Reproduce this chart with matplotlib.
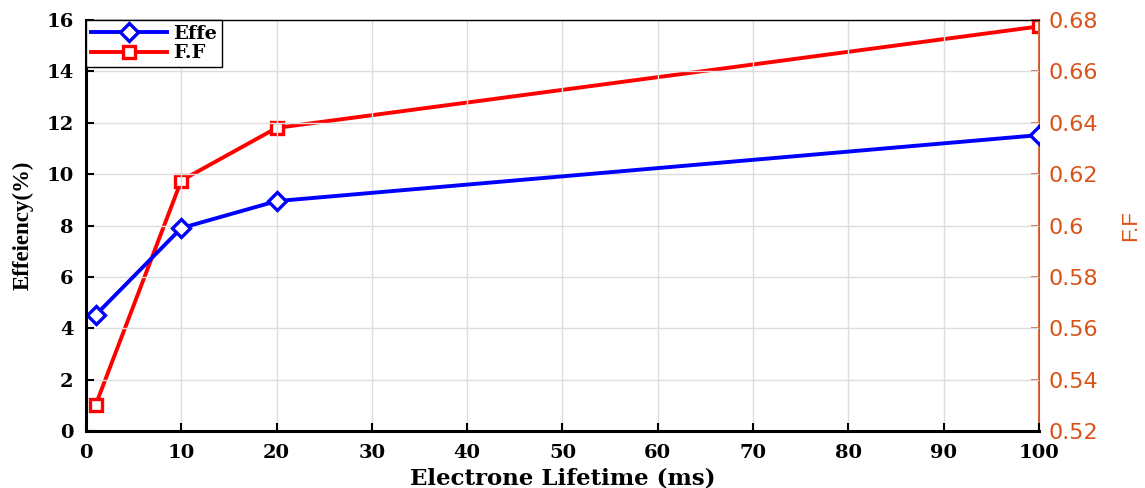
import matplotlib
matplotlib.use("Agg")
import matplotlib.pyplot as plt

lifetime = [1, 10, 20, 100]
effe = [4.51, 7.9, 8.95, 11.52]
ff = [0.530, 0.6175, 0.638, 0.6775]

x_ticks = [0, 10, 20, 30, 40, 50, 60, 70, 80, 90, 100]
left_ticks = [0, 2, 4, 6, 8, 10, 12, 14, 16]
right_ticks = [0.52, 0.54, 0.56, 0.58, 0.6, 0.62, 0.64, 0.66, 0.68]
right_ticklabels = ["0.52", "0.54", "0.56", "0.58", "0.6", "0.62", "0.64", "0.66", "0.68"]

orange = "#D95319"
wserif = "DejaVu Serif"
serif = "Liberation Serif"
sans = "DejaVu Sans"

fig = plt.figure(figsize=(11.45, 4.88), dpi=100)
ax = fig.add_axes([0.0751, 0.1168, 0.8323, 0.8422])
ax2 = ax.twinx()

l1, = ax.plot(lifetime, effe, color="#0000FF", lw=2.8, marker="D", markersize=9,
              markerfacecolor="white", markeredgecolor="#0000FF", markeredgewidth=2.4, label="Effe")
l2, = ax2.plot(lifetime, ff, color="#FF0000", lw=2.8, marker="s", markersize=8.5,
               markerfacecolor="white", markeredgecolor="#FF0000", markeredgewidth=2.4, label="F.F")

ax.set_xlim(0, 100)
ax.set_ylim(0, 16)
ax2.set_ylim(0.52, 0.68)
ax.set_xticks(x_ticks)
ax.set_yticks(left_ticks)
ax2.set_yticks(right_ticks)
ax2.set_yticklabels(right_ticklabels)

ax.grid(True, color="#DDDDDD", lw=1.0)
ax.set_axisbelow(True)

for lab in ax.get_xticklabels() + ax.get_yticklabels():
    lab.set_fontfamily(wserif)
    lab.set_fontweight("bold")
    lab.set_fontsize(14)
for lab in ax2.get_yticklabels():
    lab.set_fontfamily(sans)
    lab.set_fontsize(16)
    lab.set_color(orange)

ax.tick_params(axis="y", direction="in", length=6, width=1.5, pad=9)
ax.tick_params(axis="x", direction="in", length=6, width=1.5, pad=9)
ax2.tick_params(axis="y", direction="in", length=6, width=1.2, colors=orange, pad=7)

ax.spines["left"].set_linewidth(2.2)
ax.spines["bottom"].set_linewidth(2.2)
ax.spines["top"].set_linewidth(1.0)
for s in ["left", "bottom", "top"]:
    ax2.spines[s].set_visible(False)
ax2.spines["right"].set_color(orange)
ax2.spines["right"].set_linewidth(1.5)
ax.spines["right"].set_visible(False)

ax.set_xlabel("Electrone Lifetime (ms)", fontfamily=wserif, fontweight="bold", fontsize=16.5, labelpad=4)
ax.set_ylabel("Effeiency(%)", fontfamily=serif, fontweight="bold", fontsize=16.5, labelpad=9)
ax2.set_ylabel("F.F", fontfamily="Liberation Sans", fontsize=16, color=orange, labelpad=16)

leg = ax.legend(handles=[l1, l2], loc="upper left", bbox_to_anchor=(0.0, 1.0),
                prop={"family": wserif, "weight": "bold", "size": 14},
                fancybox=False, framealpha=1, edgecolor="black", borderaxespad=0.0,
                handlelength=3.9, handletextpad=0.35, borderpad=0.25, labelspacing=0.08)
leg.get_frame().set_linewidth(1.0)
leg.set_zorder(10)
ax.set_zorder(ax2.get_zorder() + 1)
ax.patch.set_visible(False)

fig.savefig("out.png", dpi=100)
